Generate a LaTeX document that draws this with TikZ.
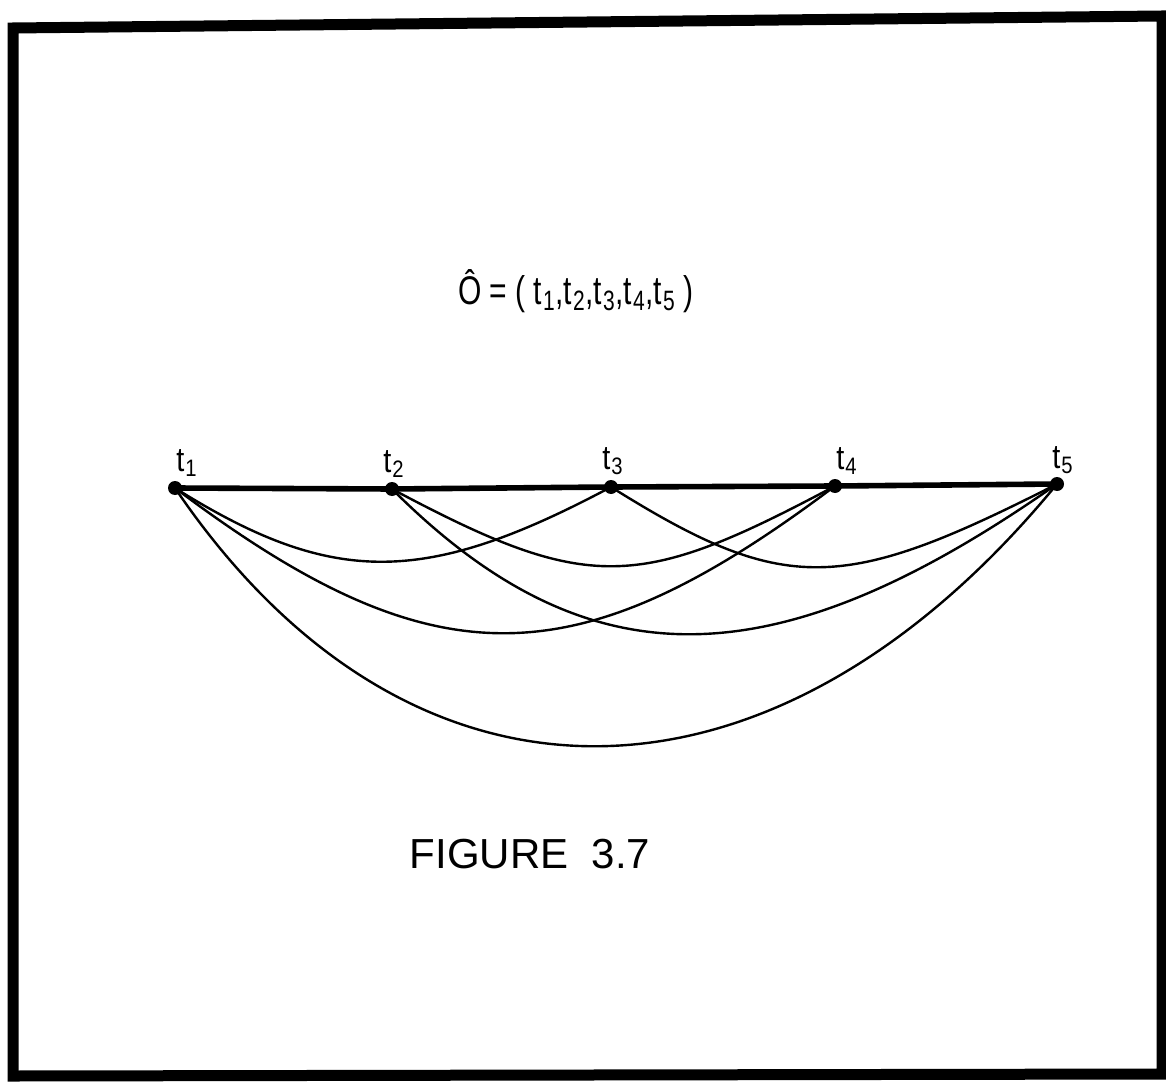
\documentclass[tikz,border=0pt]{standalone}
\usepackage{fontspec}
\setmainfont{Liberation Sans}
\usetikzlibrary{calc}
\newcommand\tsub[1]{t\kern0.6pt\textsubscript{#1}}
\tikzset{
  frame/.style={line width=5.5pt,line join=miter},
  dotnode/.style={circle,fill=black,inner sep=0pt,minimum size=7pt},
  baseline/.style={line width=2.8pt},
  arcline/.style={line width=1.2pt},
  lbl/.style={inner sep=0pt,font=\fontsize{17}{17}\selectfont},
  ttl/.style={inner sep=0pt,font=\fontsize{20}{20}\selectfont},
  fig/.style={inner sep=0pt,font=\fontsize{21}{21}\selectfont}
}
\begin{document}
\begin{tikzpicture}[x=0.5pt,y=-0.5pt]
\useasboundingbox (0,0) rectangle (1166,1085);
% frame
\draw[frame] (13,28) -- (1162,16) -- (1162,1074) -- (13,1076) -- cycle;
% vertices
\node[dotnode] (t1) at (175,488) {};
\node[dotnode] (t2) at (392,489) {};
\node[dotnode] (t3) at (611,487) {};
\node[dotnode] (t4) at (835,486) {};
\node[dotnode] (t5) at (1057,484) {};
% labels
\node[lbl] (l1) at ($(t1)+(12,-25)$) {\scalebox{0.85}[1]{\tsub{1}}};
\node[lbl] (l2) at ($(t2)+(2,-25)$) {\scalebox{0.85}[1]{\tsub{2}}};
\node[lbl] (l3) at ($(t3)+(2,-26)$) {\scalebox{0.85}[1]{\tsub{3}}};
\node[lbl] (l4) at ($(t4)+(12,-25)$) {\scalebox{0.85}[1]{\tsub{4}}};
\node[lbl] (l5) at ($(t5)+(6,-24)$) {\scalebox{0.85}[1]{\tsub{5}}};
% title and caption
\node[ttl] (title) at (576,291) {\scalebox{0.75}[1]{Ô = ( \tsub{1},\tsub{2},\tsub{3},\tsub{4},\tsub{5} )}};
\node[fig] (caption) at (530,854) {FIGURE\ \ 3.7};
% baseline
\draw[baseline] (t1.center) -- (t2.center) -- (t3.center) -- (t4.center) -- (t5.center);
% arcs
\draw[arcline] (t1.center) .. controls +(158,99) and +(-186,99) .. (t3.center);
\draw[arcline] (t1.center) .. controls +(259,195) and +(-259,195) .. (t4.center);
\draw[arcline] (t1.center) .. controls +(235,347) and +(-285,347) .. (t5.center);
\draw[arcline] (t2.center) .. controls +(197,105) and +(-197,105) .. (t4.center);
\draw[arcline] (t2.center) .. controls +(197,197) and +(-281,197) .. (t5.center);
\draw[arcline] (t3.center) .. controls +(174,109) and +(-214,109) .. (t5.center);
\end{tikzpicture}
\end{document}
